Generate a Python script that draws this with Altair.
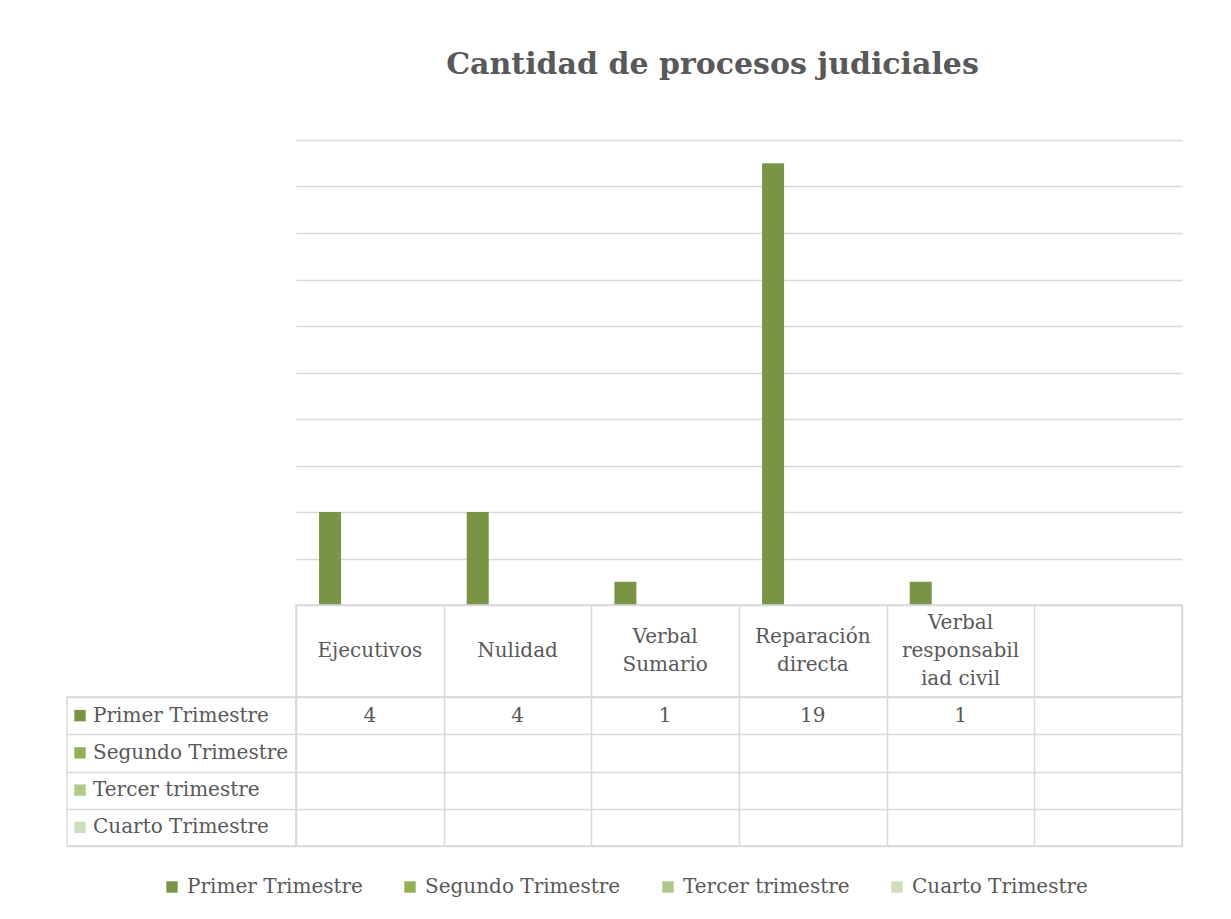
import altair as alt
import pandas as pd

# ---------------- data ----------------
categories = ["Ejecutivos", "Nulidad", "Verbal Sumario", "Reparación directa",
              "Verbal responsabiliad civil", " "]
header_labels = ["Ejecutivos", "Nulidad", "Verbal\nSumario", "Reparación\ndirecta",
                 "Verbal\nresponsabil\niad civil", ""]
series = ["Primer Trimestre", "Segundo Trimestre", "Tercer trimestre", "Cuarto Trimestre"]
primer_trimestre = [4, 4, 1, 19, 1, None]
segundo_trimestre = [None, None, None, None, None, None]
tercer_trimestre = [None, None, None, None, None, None]
cuarto_trimestre = [None, None, None, None, None, None]
y_ticks = [0, 2, 4, 6, 8, 10, 12, 14, 16, 18, 20]
colors = ["#7A9445", "#92B155", "#AFC98A", "#CFDDBA"]

FONT = "DejaVu Serif"
TEXT = "#595959"
GRID = "#D9D9D9"
GW = 1.5
LINE_H = 28

rows = []
for s, vals in zip(series, [primer_trimestre, segundo_trimestre, tercer_trimestre, cuarto_trimestre]):
    for c, v in zip(categories, vals):
        rows.append({"categoria": c, "serie": s, "valor": v})
df = pd.DataFrame(rows)
hdr = pd.DataFrame({"categoria": categories, "etiqueta": header_labels})
ser = pd.DataFrame({"serie": series})

PLOT_W = 886
LEFT_W = 229
BAR_H = 465
HDR_H = 92
ROWS_H = 149

cat_scale = alt.Scale(domain=categories, paddingInner=0, paddingOuter=0)
ser_scale = alt.Scale(domain=series, paddingInner=0, paddingOuter=0)
color_scale = alt.Scale(domain=series, range=colors)

grid_axis = alt.Axis(grid=True, tickBand="extent", labels=False, ticks=False, domain=False,
                     title=None, gridColor=GRID, gridWidth=GW)
no_stroke = alt.ViewBackground(stroke="transparent")
box_stroke = alt.ViewBackground(stroke=GRID, strokeWidth=GW)

# ---------------- bars ----------------
bars = alt.Chart(df).transform_filter("isValid(datum.valor)").mark_bar().encode(
    x=alt.X("categoria:N", sort=categories, scale=cat_scale, axis=None),
    xOffset=alt.XOffset("serie:N", sort=series,
                        scale=alt.Scale(domain=series, paddingInner=0.17, paddingOuter=0.87)),
    y=alt.Y("valor:Q", scale=alt.Scale(domain=[0, 20], nice=False),
            axis=alt.Axis(values=y_ticks, grid=True, labels=False, ticks=False, domain=False,
                          title=None, gridColor=GRID, gridWidth=GW)),
    color=alt.Color("serie:N", sort=series, scale=color_scale, legend=None),
).properties(width=PLOT_W, height=BAR_H, view=no_stroke)

# ---------------- table header ----------------
hdr_base = alt.Chart(hdr).transform_calculate(
    n="length(split(datum.etiqueta, '\\n'))"
).encode(
    x=alt.X("categoria:N", sort=categories, scale=cat_scale, axis=grid_axis),
    y=alt.value(HDR_H / 2),
    text="etiqueta:N",
)
hdr_layers = [
    hdr_base.transform_filter(f"datum.n == {k}").mark_text(
        fontSize=20, color=TEXT, lineBreak="\n", lineHeight=LINE_H,
        baseline="middle", align="center", dy=-(k - 1) * LINE_H / 2)
    for k in (1, 2, 3)
]
header = alt.layer(*hdr_layers).properties(width=PLOT_W, height=HDR_H, view=box_stroke)

# ---------------- table values ----------------
values = alt.Chart(df).transform_filter("isValid(datum.valor)").mark_text(
    fontSize=20, color=TEXT, baseline="middle", align="center").encode(
    x=alt.X("categoria:N", sort=categories, scale=cat_scale, axis=grid_axis),
    y=alt.Y("serie:N", sort=series, scale=ser_scale, axis=grid_axis),
    text=alt.Text("valor:Q", format="d"),
)
values_grid = alt.Chart(df).mark_text(text="").encode(
    x=alt.X("categoria:N", sort=categories, scale=cat_scale, axis=grid_axis),
    y=alt.Y("serie:N", sort=series, scale=ser_scale, axis=grid_axis),
)
values_tbl = alt.layer(values_grid, values).properties(width=PLOT_W, height=ROWS_H, view=box_stroke)

# ---------------- row labels (+ bottom legend) ----------------
lab_base = alt.Chart(ser).encode(
    y=alt.Y("serie:N", sort=series, scale=ser_scale, axis=grid_axis),
)
swatch = lab_base.mark_square(size=130, opacity=1).encode(
    x=alt.value(13),
    color=alt.Color("serie:N", sort=series, scale=color_scale,
                    legend=alt.Legend(title=None, orient="none", legendX=95, legendY=180,
                                      direction="horizontal", symbolType="square",
                                      symbolSize=130, symbolStrokeWidth=0, symbolOpacity=1,
                                      labelFontSize=20, labelColor=TEXT, labelFont=FONT,
                                      labelLimit=400, labelOffset=5, columnPadding=37,
                                      padding=0)),
)
lab_text = lab_base.mark_text(align="left", baseline="middle", fontSize=20, color=TEXT).encode(
    x=alt.value(26),
    text="serie:N",
)
labels_col = alt.layer(swatch, lab_text).properties(width=LEFT_W, height=ROWS_H, view=box_stroke)


# ---------------- spacers ----------------
def spacer(h):
    return alt.Chart(pd.DataFrame({"a": [0]})).mark_text(text="").encode(
        x=alt.value(0), y=alt.value(0)).properties(width=LEFT_W, height=h, view=no_stroke)


chart = alt.concat(
    spacer(BAR_H), bars,
    spacer(HDR_H), header,
    labels_col, values_tbl,
    columns=2, spacing=0, bounds="flush",
).resolve_scale(color="independent").properties(
    title=alt.TitleParams("Cantidad de procesos judiciales", fontSize=30, font=FONT,
                          fontWeight="bold", color=TEXT, anchor="middle", dx=88, offset=54),
    padding={"left": 58, "top": 41, "right": 5, "bottom": 5},
).configure(font=FONT).configure_view(stroke="transparent")

chart.save("out.html", embed_options={"renderer": "svg", "actions": False})
